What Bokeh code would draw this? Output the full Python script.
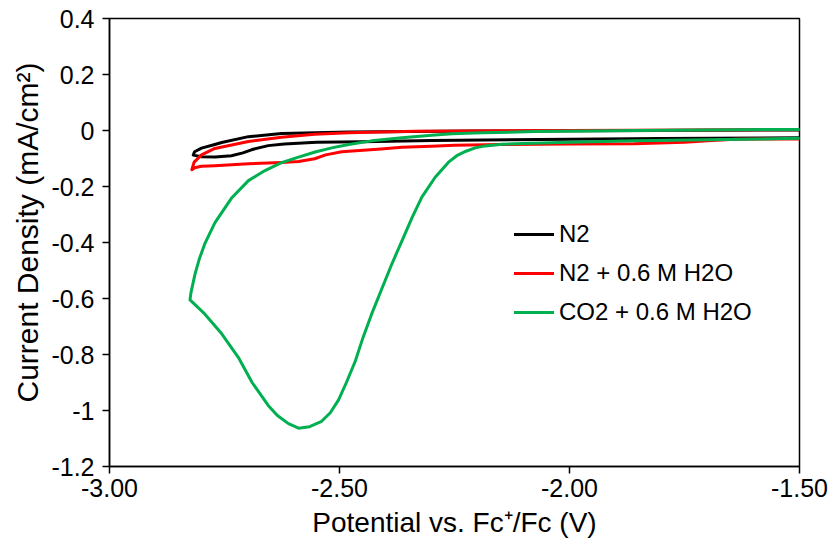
from bokeh.plotting import figure
from bokeh.models import Range1d, FixedTicker, PrintfTickFormatter, CustomJSTickFormatter, Legend, LegendItem, Title
from bokeh.embed import file_html
from bokeh.resources import INLINE

# ---- data ----
n2_x = [-1.50, -1.80, -2.00, -2.30, -2.45, -2.55, -2.62, -2.655, -2.69, -2.71, -2.735, -2.77, -2.80, -2.818,
        -2.815, -2.80, -2.771, -2.756, -2.698, -2.626, -2.48, -2.20, -1.80, -1.50]
n2_y = [-0.026, -0.029, -0.031, -0.036, -0.040, -0.042, -0.048, -0.054, -0.068, -0.080, -0.090, -0.095, -0.094, -0.088,
        -0.076, -0.063, -0.050, -0.043, -0.022, -0.011, -0.005, -0.002, 0.000, 0.002]

n2h2o_x = [-1.50, -1.64, -1.70, -1.75, -1.86, -2.00, -2.15, -2.25, -2.30, -2.364, -2.41, -2.495, -2.53, -2.554,
           -2.589, -2.626, -2.698, -2.771, -2.80, -2.815, -2.821,
           -2.816, -2.80, -2.771, -2.698, -2.626, -2.554, -2.48, -2.336, -2.00, -1.50]
n2h2o_y = [-0.030, -0.031, -0.037, -0.042, -0.047, -0.048, -0.050, -0.053, -0.056, -0.060, -0.066, -0.076, -0.087, -0.101,
           -0.111, -0.114, -0.119, -0.126, -0.128, -0.133, -0.140,
           -0.113, -0.087, -0.064, -0.039, -0.024, -0.013, -0.008, -0.003, 0.000, 0.003]

co2_x = [-1.50, -1.70, -1.857, -2.00, -2.10, -2.147, -2.183, -2.205, -2.225, -2.245, -2.263, -2.292, -2.321, -2.342,
         -2.364, -2.386, -2.408, -2.430, -2.450, -2.466, -2.485, -2.502, -2.520, -2.540, -2.565, -2.589,
         -2.611, -2.635, -2.655, -2.690, -2.720, -2.756, -2.793, -2.825,
         -2.823, -2.814, -2.805, -2.793, -2.771, -2.734, -2.698, -2.662, -2.626, -2.589, -2.553, -2.517, -2.48,
         -2.43, -2.364, -2.30, -2.255, -2.19, -2.075, -1.857, -1.70, -1.50]
co2_y = [-0.028, -0.033, -0.037, -0.042, -0.046, -0.049, -0.055, -0.062, -0.074, -0.090, -0.113, -0.167, -0.238, -0.310,
         -0.393, -0.476, -0.565, -0.655, -0.745, -0.825, -0.900, -0.962, -1.008, -1.040, -1.058, -1.063,
         -1.047, -1.018, -0.982, -0.900, -0.810, -0.726, -0.655, -0.605,
         -0.580, -0.512, -0.460, -0.405, -0.330, -0.240, -0.179, -0.143, -0.115, -0.095, -0.077, -0.062, -0.050,
         -0.037, -0.026, -0.017, -0.012, -0.008, -0.004, 0.000, 0.002, 0.004]

series_names = ["N2", "N2 + 0.6 M H2O", "CO2 + 0.6 M H2O"]
series_colors = ["#000000", "#FF0000", "#00B050"]

x_ticks = [-3.0, -2.5, -2.0, -1.5]
y_ticks = [-1.2, -1.0, -0.8, -0.6, -0.4, -0.2, 0.0, 0.2, 0.4]

FONT = "Liberation Sans"

p = figure(width=829, height=544, output_backend="svg", toolbar_location=None,
           x_range=Range1d(-3.0, -1.5), y_range=Range1d(-1.2, 0.4),
           min_border_left=109, min_border_right=30, min_border_top=18, min_border_bottom=78)
p.background_fill_color = "white"
p.border_fill_color = "white"
p.outline_line_color = "black"
p.outline_line_width = 1.5
p.xgrid.visible = False
p.ygrid.visible = False

renderers = []
for xs, ys, c in zip([n2_x, n2h2o_x, co2_x], [n2_y, n2h2o_y, co2_y], series_colors):
    r = p.line(xs, ys, line_color=c, line_width=3, line_join="round", line_cap="round")
    renderers.append(r)

for ax in (p.xaxis[0], p.yaxis[0]):
    ax.axis_line_color = "black"
    ax.axis_line_width = 1.5
    ax.major_tick_line_color = "black"
    ax.major_tick_line_width = 1.5
    ax.major_tick_out = 7
    ax.major_tick_in = 0
    ax.minor_tick_line_color = None
    ax.major_label_text_font = FONT
    ax.major_label_text_font_size = "25px"
    ax.major_label_text_color = "black"
    ax.axis_label_text_font = FONT
    ax.axis_label_text_font_size = "28px"
    ax.axis_label_text_font_style = "normal"
    ax.axis_label_text_color = "black"

p.xaxis.ticker = FixedTicker(ticks=x_ticks)
p.xaxis.formatter = PrintfTickFormatter(format="%.2f")
p.yaxis.ticker = FixedTicker(ticks=y_ticks)
p.yaxis.formatter = CustomJSTickFormatter(code="return String(Math.round(tick*10)/10);")
p.xaxis.axis_label = "Potential vs. Fc\u207a/Fc (V)"
p.xaxis.major_label_standoff = 5
p.yaxis.major_label_standoff = 8
p.xaxis.axis_label_standoff = 7

ytitle = Title(text="Current Density (mA/cm\u00b2)", align="right", offset=39,
               text_font=FONT, text_font_size="30px", text_font_style="normal",
               text_color="black", standoff=0, padding=5)
p.add_layout(ytitle, "left")

legend = Legend(items=[LegendItem(label=n, renderers=[r]) for n, r in zip(series_names, renderers)],
                location=(405, 140))
legend.label_text_font = FONT
legend.label_text_font_size = "24px"
legend.label_text_color = "black"
legend.glyph_width = 40
legend.glyph_height = 24
legend.label_height = 24
legend.label_standoff = 5
legend.spacing = 11
legend.padding = 0
legend.margin = 0
legend.border_line_color = None
legend.background_fill_alpha = 0
p.add_layout(legend, "center")

open("out.html", "w").write(file_html(p, INLINE))
